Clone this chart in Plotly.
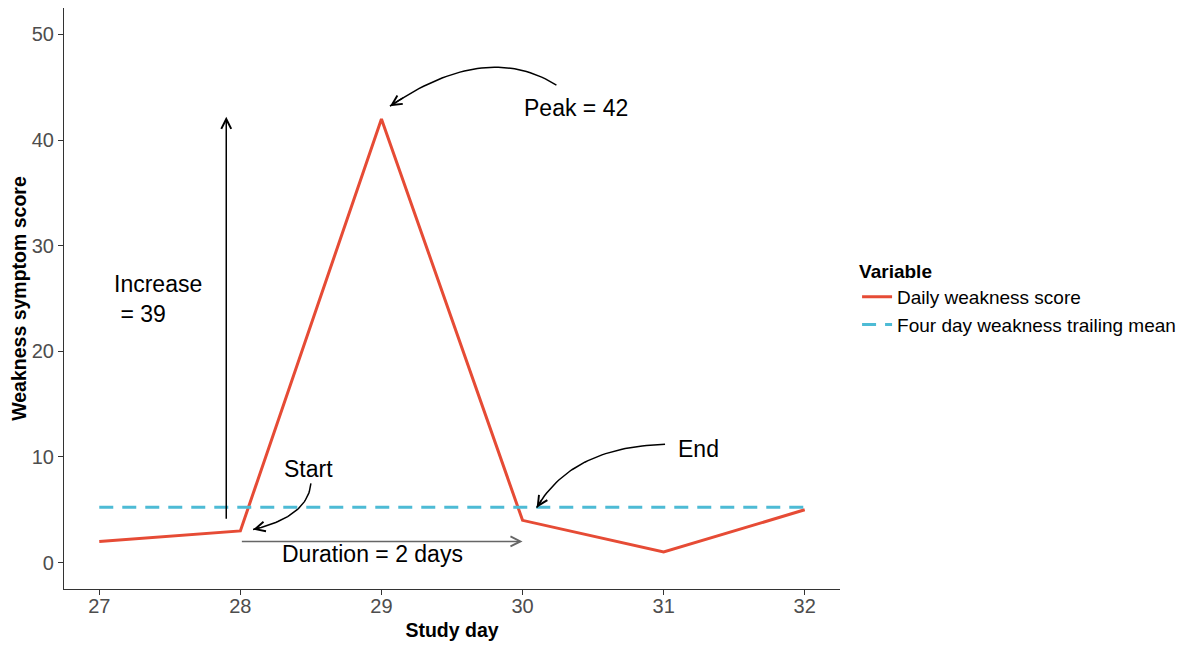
import numpy as np
import plotly.graph_objects as go

# ---- data ----
days = [27, 28, 29, 30, 31, 32]
daily_score = [2, 3, 42, 4, 1, 5]
trailing_mean = [5.25, 5.25, 5.25, 5.25, 5.25, 5.25]
x_ticks = [27, 28, 29, 30, 31, 32]
y_ticks = [0, 10, 20, 30, 40, 50]

# annotation anchors (data coordinates)
curved_arrows = [  # (tail, control, head)
    ((30.24, 45.2), (29.74, 49.4), (29.06, 43.2)),   # peak
    ((28.50, 7.5), (28.48, 4.36), (28.09, 3.13)),    # start
    ((31.01, 11.2), (30.35, 10.96), (30.10, 5.2)),   # end
]
increase_arrow = ((27.9, 4.0), (27.9, 42.2))
duration_arrow = ((28.0, 2.0), (30.0, 2.0))
labels = [
    ("Peak = 42", 30.38, 43.0, "center"),
    ("Start", 28.48, 8.9, "center"),
    ("End", 31.25, 10.8, "center"),
    ("Duration = 2 days", 28.94, 0.85, "center"),
    ("Increase<br>&nbsp;= 39", 27.09, 25.0, "left"),
]

RED = "#E64B35"
CYAN = "#4DBBD5"
FONT = "Liberation Sans, Arial, sans-serif"

fig = go.Figure()
fig.add_trace(go.Scatter(x=days, y=daily_score, mode="lines", name="Daily weakness score",
                         line=dict(color=RED, width=3)))
fig.add_trace(go.Scatter(x=days, y=trailing_mean, mode="lines", name="Four day weakness trailing mean",
                         line=dict(color=CYAN, width=3, dash="14px,9px")))

annotations = []
t = np.linspace(0, 1, 40)
for (p0, c, p2) in curved_arrows:
    bx = (1 - t) ** 2 * p0[0] + 2 * (1 - t) * t * c[0] + t ** 2 * p2[0]
    by = (1 - t) ** 2 * p0[1] + 2 * (1 - t) * t * c[1] + t ** 2 * p2[1]
    fig.add_trace(go.Scatter(x=bx, y=by, mode="lines", showlegend=False, hoverinfo="skip",
                             line=dict(color="black", width=1.5)))
    annotations.append(dict(x=bx[-1], y=by[-1], ax=bx[-4], ay=by[-4], xref="x", yref="y",
                            axref="x", ayref="y", showarrow=True, arrowhead=5, arrowsize=1.3,
                            arrowwidth=1.5, arrowcolor="black", text=""))

annotations.append(dict(x=increase_arrow[1][0], y=increase_arrow[1][1], ax=increase_arrow[0][0],
                        ay=increase_arrow[0][1], xref="x", yref="y", axref="x", ayref="y",
                        showarrow=True, arrowhead=5, arrowsize=1.3, arrowwidth=1.5,
                        arrowcolor="black", text=""))
annotations.append(dict(x=duration_arrow[1][0], y=duration_arrow[1][1], ax=duration_arrow[0][0],
                        ay=duration_arrow[0][1], xref="x", yref="y", axref="x", ayref="y",
                        showarrow=True, arrowhead=5, arrowsize=1.3, arrowwidth=1.5,
                        arrowcolor="#666666", text=""))
for txt, x, y, anc in labels:
    annotations.append(dict(text=txt, x=x, y=y, xref="x", yref="y", showarrow=False,
                            xanchor=anc, yanchor="middle", align="left",
                            font=dict(family=FONT, size=23, color="black")))

fig.update_layout(
    width=1196, height=640,
    margin=dict(l=56, r=364, t=0, b=59),
    plot_bgcolor="white", paper_bgcolor="white",
    font=dict(family=FONT),
    annotations=annotations,
    showlegend=True,
    legend=dict(x=1.022, y=0.578, xanchor="left", yanchor="top",
                title=dict(text="<b>Variable</b>", font=dict(size=19, color="black")),
                font=dict(size=19, color="black"), tracegroupgap=0, itemwidth=30),
    xaxis=dict(range=[26.75, 32.25], tickvals=x_ticks, showgrid=False, zeroline=False,
               automargin=False, ticklabelstandoff=-6,
               showline=True, linecolor="#333333", linewidth=1.2, ticks="outside", ticklen=5,
               tickcolor="#333333", tickfont=dict(size=20, color="#4D4D4D"),
               title=dict(text="<b>Study day</b>", font=dict(size=19.5, color="black"), standoff=7)),
    yaxis=dict(range=[-2.5, 52.5], tickvals=y_ticks, showgrid=False, zeroline=False,
               automargin=False,
               showline=True, linecolor="#333333", linewidth=1.2, ticks="outside", ticklen=5,
               tickcolor="#333333", tickfont=dict(size=20, color="#4D4D4D"),
               title=dict(text="<b>Weakness symptom score</b>", font=dict(size=19.5, color="black"),
                          standoff=3)),
)
fig.write_html("out.html")
